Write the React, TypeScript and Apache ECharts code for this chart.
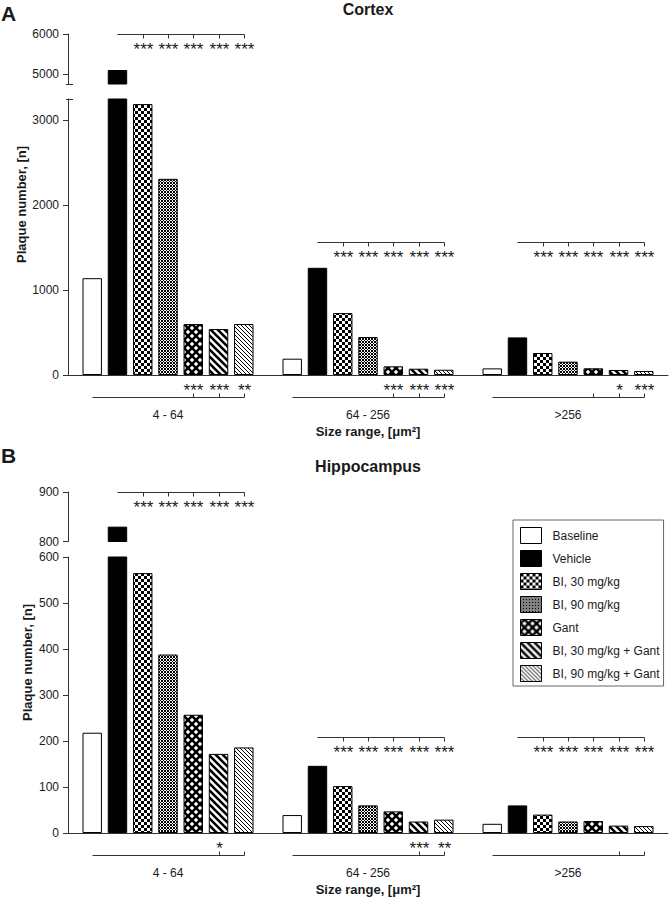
import React, { useEffect, useRef } from "react";
import * as echarts from "echarts";

// ---------------- data ----------------
const categories = ["4 - 64", "64 - 256", ">256"];
const seriesNames = [
  "Baseline",
  "Vehicle",
  "BI, 30 mg/kg",
  "BI, 90 mg/kg",
  "Gant",
  "BI, 30 mg/kg + Gant",
  "BI, 90 mg/kg + Gant",
];

const cortexBaseline = [1140, 192, 78];
const cortexVehicle = [5100, 1262, 443];
const cortexBI30 = [3190, 729, 259];
const cortexBI90 = [2310, 447, 157];
const cortexGant = [600, 102, 79];
const cortexBI30Gant = [541, 74, 59];
const cortexBI90Gant = [600, 62, 47];

const hippoBaseline = [218, 39, 20];
const hippoVehicle = [830, 146, 60];
const hippoBI30 = [565, 102, 40];
const hippoBI90 = [388, 60, 25];
const hippoGant = [257, 47, 26];
const hippoBI30Gant = [172, 25, 16];
const hippoBI90Gant = [186, 29, 15];

const cortexUpperTicks = [5000, 6000];
const cortexLowerTicks = [0, 1000, 2000, 3000];
const hippoUpperTicks = [800, 900];
const hippoLowerTicks = [0, 100, 200, 300, 400, 500, 600];

// significance vs Vehicle: bars 2..6 of each size range
const cortexVsVehicle = [
  ["***", "***", "***", "***", "***"],
  ["***", "***", "***", "***", "***"],
  ["***", "***", "***", "***", "***"],
];
const hippoVsVehicle = [
  ["***", "***", "***", "***", "***"],
  ["***", "***", "***", "***", "***"],
  ["***", "***", "***", "***", "***"],
];
// significance vs Baseline: [bar index, label]
const cortexVsBaseline: [number, string][][] = [
  [[4, "***"], [5, "***"], [6, "**"]],
  [[4, "***"], [5, "***"], [6, "***"]],
  [[4, ""], [5, "*"], [6, "***"]],
];
const hippoVsBaseline: [number, string][][] = [
  [[5, "*"], [6, ""]],
  [[5, "***"], [6, "**"]],
  [[5, ""], [6, ""]],
];

// ---------------- layout / style ----------------
const W = 671;
const H = 899;
const FONT = '"Liberation Sans", Arial, Helvetica, sans-serif';
const INK = "#1a1a1a";
const AXIS = "#333333";
const GRID_LEFT = 68;
const GRID_WIDTH = 600;
const BAR_GAP = 0.3;
const CAT_GAP = 0.145;
const STAR_SIZE = 17;
const X_TITLE = "Size range, [\u03bcm\u00b2]";
const Y_TITLE = "Plaque number, [n]";

function barCenters(cx: number, bw: number): number[] {
  const n = seriesNames.length;
  const usable = bw * (1 - CAT_GAP);
  const w = usable / (n + (n - 1) * BAR_GAP);
  return seriesNames.map((_, i) => cx - usable / 2 + i * w * (1 + BAR_GAP) + w / 2);
}

function tile(size: number, draw: (ctx: CanvasRenderingContext2D, s: number) => void) {
  const c = document.createElement("canvas");
  c.width = size;
  c.height = size;
  const ctx = c.getContext("2d")!;
  draw(ctx, size);
  return { image: c, repeat: "repeat", imageWidth: size, imageHeight: size };
}

function stripes(size: number, lw: number) {
  return tile(size, (ctx, s) => {
    ctx.fillStyle = "#fff";
    ctx.fillRect(0, 0, s, s);
    ctx.strokeStyle = "#000";
    ctx.lineWidth = lw;
    ctx.beginPath();
    for (const k of [-1, 0, 1]) {
      ctx.moveTo(k * s - 2, -2);
      ctx.lineTo(k * s + s + 2, s + 2);
    }
    ctx.stroke();
  });
}

function makeFills(): any[] {
  const checker = tile(6, (ctx, s) => {
    ctx.fillStyle = "#fff";
    ctx.fillRect(0, 0, s, s);
    ctx.fillStyle = "#000";
    ctx.fillRect(0, 0, 3, 3);
    ctx.fillRect(3, 3, 3, 3);
  });
  const fine = tile(3, (ctx) => {
    ctx.fillStyle = "#fff";
    ctx.fillRect(0, 0, 3, 3);
    ctx.fillStyle = "#000";
    ctx.fillRect(0, 0, 1, 1);
    ctx.fillRect(1, 1, 1, 1);
    ctx.fillRect(2, 2, 1, 1);
    ctx.fillRect(2, 0, 1, 1);
    ctx.fillRect(0, 2, 1, 1);
  });
  const diamond = tile(8, (ctx, s) => {
    ctx.fillStyle = "#000";
    ctx.fillRect(0, 0, s, s);
    ctx.fillStyle = "#fff";
    const r = 2.2;
    const centers = [
      [s / 2, s / 2],
      [0, 0],
      [s, 0],
      [0, s],
      [s, s],
    ];
    for (const [cx, cy] of centers) {
      ctx.beginPath();
      ctx.moveTo(cx, cy - r);
      ctx.lineTo(cx + r, cy);
      ctx.lineTo(cx, cy + r);
      ctx.lineTo(cx - r, cy);
      ctx.closePath();
      ctx.fill();
    }
  });
  const thick = stripes(7, 2.6);
  const thin = stripes(4, 1);
  return ["#ffffff", "#000000", checker, fine, diamond, thick, thin];
}

function line(x1: number, y1: number, x2: number, y2: number) {
  return {
    type: "line",
    shape: { x1, y1, x2, y2 },
    style: { stroke: AXIS, lineWidth: 1 },
  };
}

function starText(text: string, x: number, y: number) {
  return {
    type: "text",
    x,
    y,
    style: {
      text,
      fontSize: STAR_SIZE,
      fontFamily: FONT,
      fill: INK,
      align: "center",
      verticalAlign: "middle",
      textAlign: "center",
      textVerticalAlign: "middle",
    },
  };
}

const crisp = (v: number) => Math.round(v) + 0.5;

function vsVehicleSeries(axisIndex: number, items: number[][], marks: string[][]) {
  return {
    type: "custom",
    xAxisIndex: axisIndex,
    yAxisIndex: axisIndex,
    silent: true,
    clip: false,
    z: 5,
    data: items,
    encode: { x: 0, y: 1 },
    renderItem: (_params: any, api: any) => {
      const g = api.value(0);
      const pt = api.coord([g, api.value(1)]);
      const bw = api.size([1, 0])[0];
      const xs = barCenters(pt[0], bw).map(crisp);
      const y = crisp(pt[1]);
      const children: any[] = [line(xs[1], y, xs[6], y)];
      for (let k = 2; k <= 6; k++) {
        children.push(line(xs[k], y, xs[k], y + 4));
        const t = marks[g][k - 2];
        if (t) children.push(starText(t, xs[k], y + 14.5));
      }
      return { type: "group", children };
    },
  };
}

function vsBaselineSeries(axisIndex: number, marks: [number, string][][]) {
  return {
    type: "custom",
    xAxisIndex: axisIndex,
    yAxisIndex: axisIndex,
    silent: true,
    clip: false,
    z: 5,
    data: categories.map((_, i) => [i, 0]),
    encode: { x: 0, y: 1 },
    renderItem: (_params: any, api: any) => {
      const g = api.value(0);
      const pt = api.coord([g, 0]);
      const bw = api.size([1, 0])[0];
      const xs = barCenters(pt[0], bw).map(crisp);
      const y = crisp(pt[1] + 22);
      const children: any[] = [line(xs[0], y, xs[6], y)];
      for (const [k, t] of marks[g]) {
        children.push(line(xs[k], y, xs[k], y - 4));
        if (t) children.push(starText(t, xs[k], y - 7));
      }
      return { type: "group", children };
    },
  };
}

function label(text: string, x: number, y: number, size: number, opts: any = {}) {
  return {
    type: "text",
    x,
    y,
    rotation: opts.rotation || 0,
    silent: true,
    style: {
      text,
      fontSize: size,
      fontWeight: "bold",
      fontFamily: FONT,
      fill: INK,
      align: opts.align || "center",
      verticalAlign: "middle",
      textAlign: opts.align || "center",
      textVerticalAlign: "middle",
    },
  };
}

function buildOption() {
  const fills = makeFills();
  const panels = [
    {
      label: "A",
      labelY: 13,
      title: "Cortex",
      titleY: 9,
      yTitleX: 21,
      values: [cortexBaseline, cortexVehicle, cortexBI30, cortexBI90, cortexGant, cortexBI30Gant, cortexBI90Gant],
      upper: { top: 34, height: 50, min: 4750, max: 6000, ticks: cortexUpperTicks },
      lower: { top: 99, height: 276, min: 0, max: 3250, ticks: cortexLowerTicks },
      bracketLevel: 1570,
      caps: true,
      vsVehicle: cortexVsVehicle,
      vsBaseline: cortexVsBaseline,
    },
    {
      label: "B",
      labelY: 455,
      title: "Hippocampus",
      titleY: 466,
      yTitleX: 27,
      values: [hippoBaseline, hippoVehicle, hippoBI30, hippoBI90, hippoGant, hippoBI30Gant, hippoBI90Gant],
      upper: { top: 492, height: 49.5, min: 800, max: 900, ticks: hippoUpperTicks },
      lower: { top: 557, height: 276, min: 0, max: 600, ticks: hippoLowerTicks },
      bracketLevel: 209,
      caps: false,
      vsVehicle: hippoVsVehicle,
      vsBaseline: hippoVsBaseline,
    },
  ];

  const grid: any[] = [];
  const xAxis: any[] = [];
  const yAxis: any[] = [];
  const series: any[] = [];
  const graphic: any[] = [];

  panels.forEach((p, pi) => {
    [p.upper, p.lower].forEach((seg, si) => {
      const idx = pi * 2 + si;
      const isLower = si === 1;
      grid.push({ left: GRID_LEFT, top: seg.top, width: GRID_WIDTH, height: seg.height });
      xAxis.push({
        type: "category",
        gridIndex: idx,
        data: categories,
        axisLine: { show: isLower, lineStyle: { color: AXIS, width: 1 } },
        axisTick: { show: false },
        axisLabel: { show: isLower, margin: 34, fontSize: 12, color: INK, fontFamily: FONT },
        splitLine: { show: false },
        name: isLower ? X_TITLE : "",
        nameLocation: "middle",
        nameGap: 50,
        nameTextStyle: { fontSize: 13, fontWeight: "bold", color: INK, fontFamily: FONT },
      });
      yAxis.push({
        type: "value",
        gridIndex: idx,
        min: seg.min,
        max: seg.max,
        axisLine: { show: true, lineStyle: { color: AXIS, width: 1 } },
        axisTick: { show: true, length: 5, customValues: seg.ticks, lineStyle: { color: AXIS } },
        axisLabel: {
          customValues: seg.ticks,
          fontSize: 12,
          margin: 9,
          color: INK,
          fontFamily: FONT,
          formatter: (v: number) => String(v),
        },
        splitLine: { show: false },
      });
      p.values.forEach((vals, k) => {
        series.push({
          type: "bar",
          name: seriesNames[k],
          xAxisIndex: idx,
          yAxisIndex: idx,
          data: vals,
          barGap: "30%",
          barCategoryGap: "14.5%",
          clip: true,
          silent: true,
          itemStyle: { color: fills[k], borderColor: "#000", borderWidth: 1 },
        });
      });
    });
    const up = pi * 2;
    const low = pi * 2 + 1;
    series.push(vsVehicleSeries(up, [[0, p.upper.max]], p.vsVehicle));
    series.push(
      vsVehicleSeries(
        low,
        [
          [1, p.bracketLevel],
          [2, p.bracketLevel],
        ],
        p.vsVehicle
      )
    );
    series.push(vsBaselineSeries(low, p.vsBaseline));

    graphic.push(label(p.label, 1, p.labelY, 21, { align: "left" }));
    graphic.push(label(p.title, GRID_LEFT + GRID_WIDTH / 2, p.titleY, 16));
    const yMid = (p.upper.top + p.lower.top + p.lower.height) / 2;
    graphic.push(label(Y_TITLE, p.yTitleX, yMid, 13, { rotation: Math.PI / 2 }));
    if (p.caps) {
      const yb = crisp(p.upper.top + p.upper.height);
      const yt = crisp(p.lower.top);
      for (const y of [yb, yt]) {
        graphic.push({
          type: "line",
          silent: true,
          shape: { x1: GRID_LEFT - 2, y1: y, x2: GRID_LEFT + 5, y2: y },
          style: { stroke: AXIS, lineWidth: 1 },
        });
      }
    }
  });

  return {
    animation: false,
    backgroundColor: "#ffffff",
    textStyle: { fontFamily: FONT },
    grid,
    xAxis,
    yAxis,
    series,
    graphic,
    legend: {
      orient: "vertical",
      left: 513,
      top: 520,
      data: seriesNames,
      icon: "rect",
      itemWidth: 21,
      itemHeight: 16,
      itemGap: 6,
      padding: [7, 4, 4, 7],
      borderColor: "#666",
      borderWidth: 1,
      backgroundColor: "#fff",
      selectedMode: false,
      itemStyle: { borderColor: "#000", borderWidth: 1 },
      textStyle: { fontSize: 12, color: INK, fontFamily: FONT, padding: [0, 0, 0, 6] },
    },
  };
}

export default function App() {
  const ref = useRef<HTMLDivElement>(null);
  useEffect(() => {
    document.body.style.margin = "0";
    const chart = echarts.init(ref.current!, null, { renderer: "svg", width: W, height: H });
    chart.setOption(buildOption() as any);
    return () => chart.dispose();
  }, []);
  return (
    <div
      ref={ref}
      style={{ position: "absolute", left: 0, top: 0, width: W, height: H, background: "#fff" }}
    />
  );
}
